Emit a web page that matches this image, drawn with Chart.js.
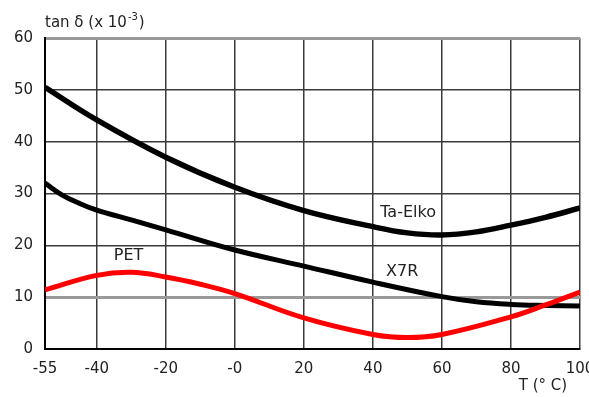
<!DOCTYPE html>
<html>
<head>
<meta charset="utf-8">
<script src="https://cdn.jsdelivr.net/npm/chart.js@4"></script>
<style>
html,body{margin:0;padding:0;background:#fff;}
#wrap{width:589px;height:397px;position:relative;}
</style>
</head>
<body>
<div id="wrap"><canvas id="c" width="589" height="397"></canvas></div>
<script>
// Data
const xTicks = [-55, -40, -20, 0, 20, 40, 60, 80, 100];
const xTickLabels = ['-55', '-40', '-20', '-0', '20', '40', '60', '80', '100'];
const yTicks = [0, 10, 20, 30, 40, 50, 60];

const taElkoT = [-55, -40, -20, 0, 20, 40, 50, 60, 70, 80, 90, 100];
const taElkoV = [50.5, 44.2, 37.0, 31.2, 26.7, 23.6, 22.4, 22.0, 22.6, 23.9, 25.4, 27.2];

const x7rT = [-55, -50, -45, -40, -30, -20, 0, 20, 40, 60, 70, 80, 90, 100];
const x7rV = [32.0, 29.7, 28.1, 26.8, 24.9, 23.0, 19.1, 16.0, 12.9, 10.1, 9.1, 8.6, 8.4, 8.3];

const petT = [-55, -40, -30, -20, -10, 0, 20, 40, 50, 60, 80, 90, 100];
const petV = [11.4, 14.2, 14.8, 13.9, 12.5, 10.7, 6.0, 2.8, 2.2, 2.8, 6.2, 8.5, 11.0];

const seriesLabels = [
  {text: 'Ta-Elko', x: 50.2, y: 26.2},
  {text: 'X7R', x: 48.5, y: 14.8},
  {text: 'PET', x: -30.8, y: 17.9}
];

const toPts = (t, v) => t.map((x, i) => ({x: x, y: v[i]}));
const FONT = '"DejaVu Sans", sans-serif';

const annot = {
  id: 'annot',
  afterDraw(chart) {
    const ctx = chart.ctx;
    const xs = chart.scales.x, ys = chart.scales.y;
    ctx.save();
    ctx.fillStyle = '#222';
    ctx.textBaseline = 'alphabetic';
    // axis title
    ctx.font = '15px ' + FONT;
    ctx.textAlign = 'left';
    let x0 = chart.chartArea.left;
    const base = 27;
    const p1 = 'tan δ (x 10';
    ctx.fillText(p1, x0, base);
    let w = ctx.measureText(p1).width;
    ctx.font = '10px ' + FONT;
    ctx.fillText('-3', x0 + w + 1, base - 7);
    const w2 = ctx.measureText('-3').width;
    ctx.font = '15px ' + FONT;
    ctx.fillText(')', x0 + w + w2 + 2, base);
    // x axis title
    ctx.textAlign = 'center';
    ctx.fillText('T (° C)', 543, 390);
    // series labels
    ctx.textBaseline = 'middle';
    ctx.font = '16px ' + FONT;
    seriesLabels.forEach(l => {
      ctx.fillText(l.text, xs.getPixelForValue(l.x), ys.getPixelForValue(l.y));
    });
    ctx.restore();
  }
};

new Chart(document.getElementById('c'), {
  type: 'line',
  data: {
    datasets: [
      {label: 'PET', data: toPts(petT, petV), borderColor: '#ff0000', borderWidth: 5},
      {label: 'X7R', data: toPts(x7rT, x7rV), borderColor: '#000', borderWidth: 5},
      {label: 'Ta-Elko', data: toPts(taElkoT, taElkoV), borderColor: '#000', borderWidth: 5.5}
    ]
  },
  options: {
    responsive: false,
    animation: false,
    devicePixelRatio: 1,
    layout: {padding: {top: 38, right: 9, left: 0, bottom: 0}},
    elements: {
      point: {radius: 0},
      line: {tension: 0.4, borderCapStyle: 'butt', borderJoinStyle: 'round'}
    },
    plugins: {legend: {display: false}, tooltip: {enabled: false}},
    scales: {
      x: {
        type: 'linear',
        min: -55, max: 100,
        afterBuildTicks: s => { s.ticks = xTicks.map(v => ({value: v})); },
        afterFit: s => { s.height = 48; s.paddingLeft = 0; s.paddingRight = 0; },
        grid: {color: '#3a3a3a', lineWidth: 1.5, drawTicks: false},
        border: {color: '#000', width: 2},
        ticks: {
          autoSkip: false, maxRotation: 0, padding: 11, color: '#222',
          font: {family: FONT, size: 15},
          callback: (v) => { const i = xTicks.indexOf(v); return i >= 0 ? xTickLabels[i] : ''; }
        }
      },
      y: {
        min: 0, max: 60,
        afterBuildTicks: s => { s.ticks = yTicks.map(v => ({value: v})); },
        afterFit: s => { s.width = 45; },
        grid: {
          drawTicks: false,
          color: c => (c.tick && (c.tick.value === 60 || c.tick.value === 10)) ? '#999' : '#3a3a3a',
          lineWidth: c => (c.tick && (c.tick.value === 60 || c.tick.value === 10)) ? 3 : 1.5
        },
        border: {color: '#000', width: 2},
        ticks: {padding: 12, color: '#222', font: {family: FONT, size: 15}}
      }
    }
  },
  plugins: [annot]
});
</script>
</body>
</html>
